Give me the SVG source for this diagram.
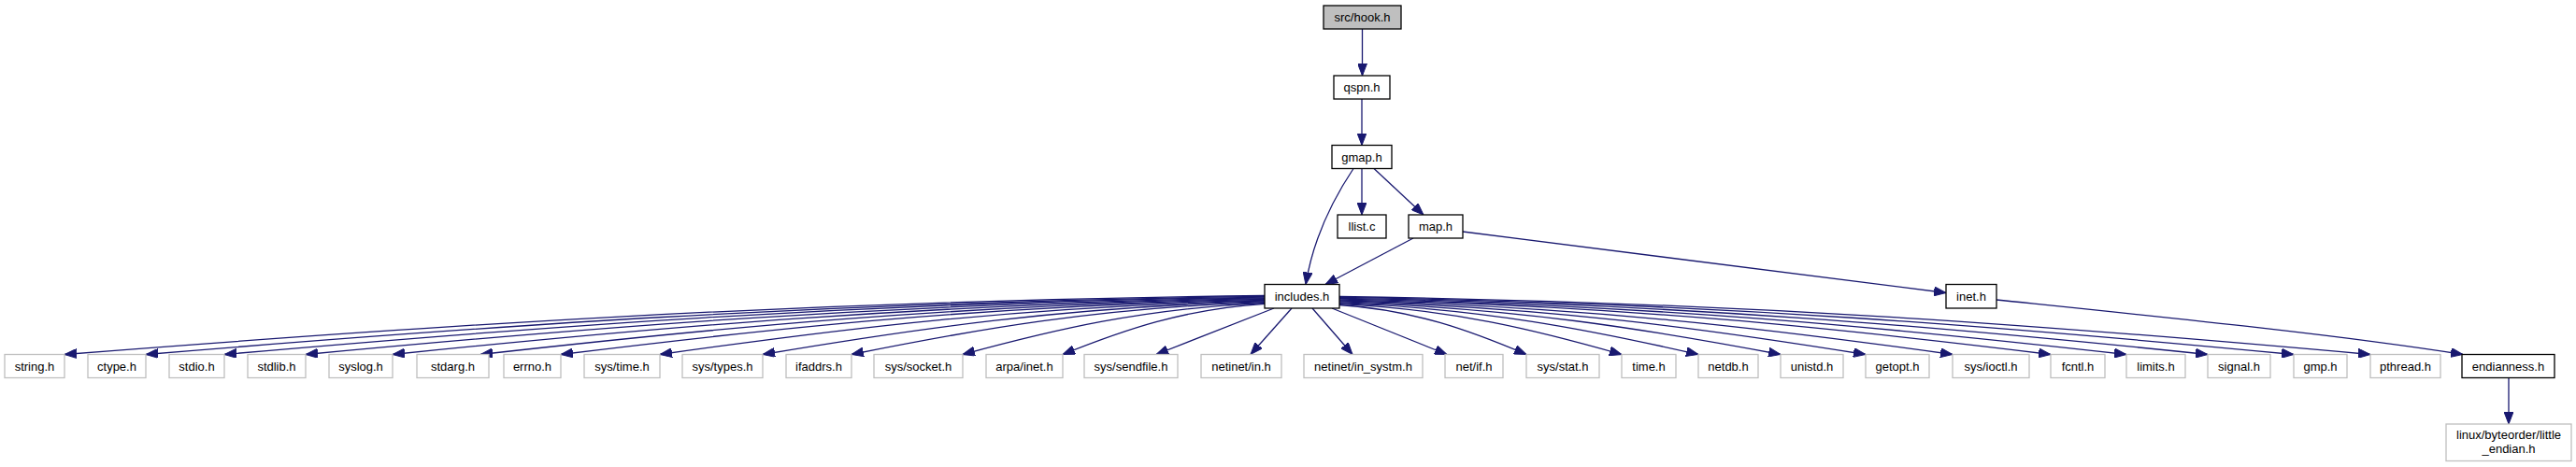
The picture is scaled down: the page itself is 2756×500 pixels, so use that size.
<svg xmlns="http://www.w3.org/2000/svg" width="2756" height="500" viewBox="0 0 2756 500">
<style>
.n rect{fill:#fff;stroke:#000;stroke-width:1.3}
.g rect{fill:#fff;stroke:#bfbfbf;stroke-width:1.3}
.root rect{fill:#bfbfbf;stroke:#000;stroke-width:1.3}
text{font-family:"Liberation Sans",Arial,Helvetica,sans-serif;font-size:13px;text-anchor:middle;fill:#000}
#edges path{fill:none;stroke:#191970;stroke-width:1.3;marker-end:url(#arr)}
</style>
<defs>
<marker id="arr" viewBox="0 0 13 10" refX="13" refY="5" markerWidth="13" markerHeight="10" markerUnits="userSpaceOnUse" orient="auto">
<polygon points="0,0 13,5 0,10" fill="#191970" stroke="#191970" stroke-width="1"/>
</marker>
</defs>
<rect width="2756" height="500" fill="#fff"/>
<g id="edges">
<path d="M1457.5,31 L1457.5,81"/>
<path d="M1457,106 L1457,155.5"/>
<path d="M1457,180.5 L1457,230"/>
<path d="M1470,180.5 L1523,230"/>
<path d="M1448,180.5 C1425,215 1405,255 1397,304.5"/>
<path d="M1512,255 L1418,304.5"/>
<path d="M1565,248 L2082,313.5"/>
<path d="M2136,321 C2300,338 2500,358 2635,379.5"/>
<path d="M2684,404.5 L2684,454"/>
<path d="M1353,316.5 C839.4,322.8 454.2,349.3 69,379.5"/>
<path d="M1353,317.3 C874.2,323.5 515.1,349.6 156,379.5"/>
<path d="M1353,318.1 C907.8,324.2 573.9,350 240,379.5"/>
<path d="M1353,318.9 C942.6,325 634.8,350.4 327,379.5"/>
<path d="M1353,319.7 C979.8,325.7 699.9,350.8 420,379.5"/>
<path d="M1353,320.5 C1017.4,326.4 765.7,351.2 514,379.5"/>
<path d="M1353,321.3 C1051.8,327.1 825.9,351.6 600,379.5"/>
<path d="M1353,322.1 C1094.2,327.8 900.1,352 706,379.5"/>
<path d="M1353,322.9 C1138.2,328.6 977.1,352.3 816,379.5"/>
<path d="M1353,323.7 C1176.2,329.3 1043.6,352.7 911,379.5"/>
<path d="M1353,324.5 C1223.8,330 1126.9,353.1 1030,379.5"/>
<path d="M1353,325.3 C1266.6,330.7 1201.8,353.5 1137,379.5"/>
<path d="M1363,330 L1237,379.5"/>
<path d="M1382,330 L1338,379.5"/>
<path d="M1404,330 L1447,379.5"/>
<path d="M1425,330 L1548,379.5"/>
<path d="M1433,326.5 C1513,331.8 1573,354.1 1633,379.5"/>
<path d="M1433,325.6 C1553.8,331 1644.4,353.6 1735,379.5"/>
<path d="M1433,324.7 C1586.6,330.2 1701.8,353.2 1817,379.5"/>
<path d="M1433,323.8 C1621.8,329.4 1763.4,352.8 1905,379.5"/>
<path d="M1433,322.9 C1658.2,328.6 1827.1,352.3 1996,379.5"/>
<path d="M1433,322 C1695.4,327.8 1892.2,351.9 2089,379.5"/>
<path d="M1433,321.1 C1737.4,326.9 1965.7,351.5 2194,379.5"/>
<path d="M1433,320.2 C1769.8,326.1 2022.4,351 2275,379.5"/>
<path d="M1433,319.3 C1804.6,325.3 2083.3,350.6 2362,379.5"/>
<path d="M1433,318.4 C1841.4,324.5 2147.7,350.2 2454,379.5"/>
<path d="M1433,317.5 C1874.2,323.7 2205.1,349.7 2536,379.5"/>
</g>
<g id="node-hook" class="root"><rect x="1416" y="6" width="83" height="25"/><text x="1457.5" y="23">src/hook.h</text></g>
<g id="node-qspn" class="n"><rect x="1427" y="81" width="60" height="25"/><text x="1457" y="98">qspn.h</text></g>
<g id="node-gmap" class="n"><rect x="1425" y="155.5" width="64" height="25"/><text x="1457" y="172.5">gmap.h</text></g>
<g id="node-llist" class="n"><rect x="1431" y="230" width="52" height="25"/><text x="1457" y="247">llist.c</text></g>
<g id="node-map" class="n"><rect x="1507" y="230" width="58" height="25"/><text x="1536" y="247">map.h</text></g>
<g id="node-includes" class="n"><rect x="1353" y="304.5" width="80" height="25.5"/><text x="1393" y="321.5">includes.h</text></g>
<g id="node-inet" class="n"><rect x="2082" y="304.5" width="54" height="25.5"/><text x="2109" y="321.5">inet.h</text></g>
<g id="node-string" class="g"><rect x="5" y="379.5" width="64" height="25"/><text x="37" y="396.5">string.h</text></g>
<g id="node-ctype" class="g"><rect x="94" y="379.5" width="62" height="25"/><text x="125" y="396.5">ctype.h</text></g>
<g id="node-stdio" class="g"><rect x="181" y="379.5" width="59" height="25"/><text x="210.5" y="396.5">stdio.h</text></g>
<g id="node-stdlib" class="g"><rect x="265" y="379.5" width="62" height="25"/><text x="296" y="396.5">stdlib.h</text></g>
<g id="node-syslog" class="g"><rect x="352" y="379.5" width="68" height="25"/><text x="386" y="396.5">syslog.h</text></g>
<g id="node-stdarg" class="g"><rect x="446" y="379.5" width="77" height="25"/><text x="484.5" y="396.5">stdarg.h</text></g>
<g id="node-errno" class="g"><rect x="539" y="379.5" width="61" height="25"/><text x="569.5" y="396.5">errno.h</text></g>
<g id="node-systime" class="g"><rect x="625" y="379.5" width="81" height="25"/><text x="665.5" y="396.5">sys/time.h</text></g>
<g id="node-systypes" class="g"><rect x="730" y="379.5" width="86" height="25"/><text x="773" y="396.5">sys/types.h</text></g>
<g id="node-ifaddrs" class="g"><rect x="841" y="379.5" width="70" height="25"/><text x="876" y="396.5">ifaddrs.h</text></g>
<g id="node-syssocket" class="g"><rect x="935" y="379.5" width="95" height="25"/><text x="982.5" y="396.5">sys/socket.h</text></g>
<g id="node-arpainet" class="g"><rect x="1055" y="379.5" width="82" height="25"/><text x="1096" y="396.5">arpa/inet.h</text></g>
<g id="node-syssendfile" class="g"><rect x="1160" y="379.5" width="100" height="25"/><text x="1210" y="396.5">sys/sendfile.h</text></g>
<g id="node-netinetin" class="g"><rect x="1285" y="379.5" width="86" height="25"/><text x="1328" y="396.5">netinet/in.h</text></g>
<g id="node-insystm" class="g"><rect x="1395" y="379.5" width="127" height="25"/><text x="1458.5" y="396.5">netinet/in_systm.h</text></g>
<g id="node-netif" class="g"><rect x="1546" y="379.5" width="62" height="25"/><text x="1577" y="396.5">net/if.h</text></g>
<g id="node-sysstat" class="g"><rect x="1633" y="379.5" width="78" height="25"/><text x="1672" y="396.5">sys/stat.h</text></g>
<g id="node-time" class="g"><rect x="1735" y="379.5" width="58" height="25"/><text x="1764" y="396.5">time.h</text></g>
<g id="node-netdb" class="g"><rect x="1817" y="379.5" width="64" height="25"/><text x="1849" y="396.5">netdb.h</text></g>
<g id="node-unistd" class="g"><rect x="1905" y="379.5" width="67" height="25"/><text x="1938.5" y="396.5">unistd.h</text></g>
<g id="node-getopt" class="g"><rect x="1996" y="379.5" width="68" height="25"/><text x="2030" y="396.5">getopt.h</text></g>
<g id="node-sysioctl" class="g"><rect x="2089" y="379.5" width="82" height="25"/><text x="2130" y="396.5">sys/ioctl.h</text></g>
<g id="node-fcntl" class="g"><rect x="2194" y="379.5" width="58" height="25"/><text x="2223" y="396.5">fcntl.h</text></g>
<g id="node-limits" class="g"><rect x="2275" y="379.5" width="63" height="25"/><text x="2306.5" y="396.5">limits.h</text></g>
<g id="node-signal" class="g"><rect x="2362" y="379.5" width="67" height="25"/><text x="2395.5" y="396.5">signal.h</text></g>
<g id="node-gmp" class="g"><rect x="2454" y="379.5" width="57" height="25"/><text x="2482.5" y="396.5">gmp.h</text></g>
<g id="node-pthread" class="g"><rect x="2536" y="379.5" width="75" height="25"/><text x="2573.5" y="396.5">pthread.h</text></g>
<g id="node-endianness" class="n"><rect x="2634" y="379.5" width="99" height="25"/><text x="2683.5" y="396.5">endianness.h</text></g>
<g id="node-littleendian" class="g"><rect x="2617" y="454" width="134" height="39.5"/><text x="2684" y="470">linux/byteorder/little</text><text x="2684" y="484.5">_endian.h</text></g>
</svg>
